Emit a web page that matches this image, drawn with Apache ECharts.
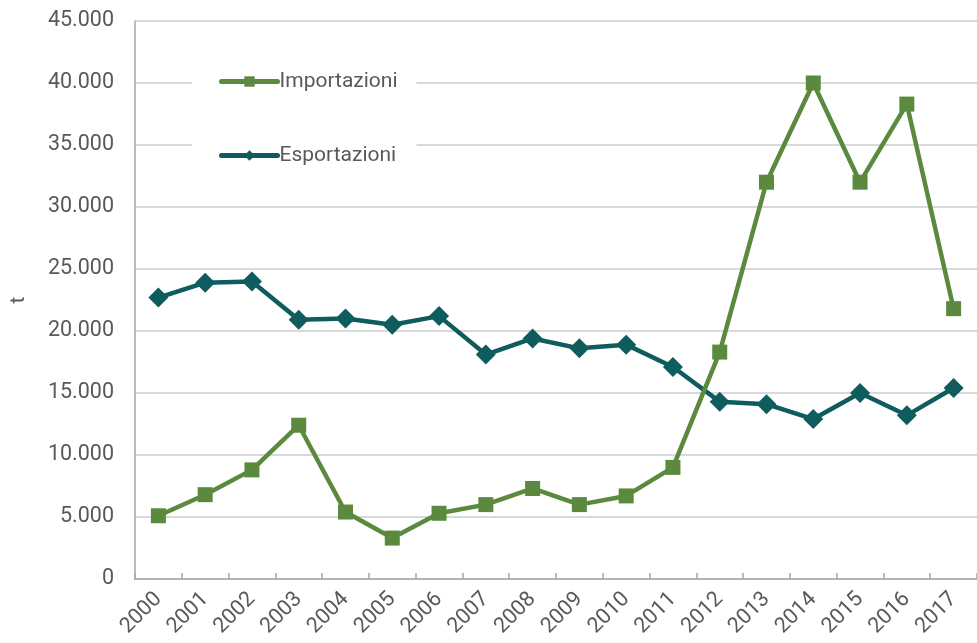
<!DOCTYPE html>
<html>
<head>
<meta charset="utf-8">
<script src="https://cdn.jsdelivr.net/npm/echarts@6/dist/echarts.min.js"></script>
<style>
  html, body { margin: 0; padding: 0; background: #fff; }
  #chart { width: 977px; height: 643px; }
</style>
</head>
<body>
<div id="chart"></div>
<script>
// Years on the category axis
const years = ['2000','2001','2002','2003','2004','2005','2006','2007','2008',
               '2009','2010','2011','2012','2013','2014','2015','2016','2017'];

// Imports and exports, tonnes
const importazioni = [5100, 6800, 8800, 12400, 5400, 3300, 5300, 6000, 7300,
                      6000, 6700, 9000, 18300, 32000, 40000, 32000, 38300, 21800];
const esportazioni = [22700, 23900, 24000, 20900, 21000, 20500, 21200, 18100, 19400,
                      18600, 18900, 17100, 14300, 14100, 12900, 15000, 13200, 15400];

const GREEN = '#5b8a3f';
const TEAL = '#0f5c5e';
const TEXT = '#595959';
const FONT = 'Roboto';

const fmt = v => String(v).replace(/\B(?=(\d{3})+(?!\d))/g, '.');

const chart = echarts.init(document.getElementById('chart'), null, { renderer: 'canvas' });
chart.setOption({
  animation: false,
  textStyle: { fontFamily: FONT },
  grid: { left: 134, right: -7, top: 21, bottom: 64, containLabel: false },
  legend: {
    orient: 'vertical',
    left: 192,
    top: 63,
    backgroundColor: '#ffffff',
    padding: [8, 19, 8, 27],
    itemGap: 53,
    itemWidth: 56,
    itemHeight: 13,
    lineStyle: { width: 5, cap: 'round' },
    textStyle: { fontFamily: FONT, fontSize: 21, color: TEXT, padding: [0, 0, 0, -3] },
    data: ['Importazioni', 'Esportazioni']
  },
  xAxis: {
    type: 'category',
    data: years,
    boundaryGap: true,
    axisLine: { lineStyle: { color: '#a6a6a6', width: 1.5 } },
    axisTick: { show: true, inside: true, length: 6, lineStyle: { color: '#a6a6a6', width: 1.5 } },
    axisLabel: { rotate: 45, fontFamily: FONT, fontSize: 21.5, color: TEXT, margin: 17, interval: 0 }
  },
  yAxis: {
    type: 'value',
    min: 0,
    max: 45000,
    interval: 5000,
    name: 't',
    nameLocation: 'middle',
    nameGap: 106,
    nameRotate: 90,
    nameTextStyle: { fontFamily: FONT, fontSize: 21, color: TEXT },
    axisLine: { show: true, lineStyle: { color: '#a6a6a6', width: 1.5 } },
    axisTick: { show: false },
    axisLabel: { fontFamily: FONT, fontSize: 21.5, color: TEXT, margin: 21, formatter: fmt },
    splitLine: { lineStyle: { color: '#cccccc', width: 1.5 } }
  },
  series: [
    {
      name: 'Importazioni',
      type: 'line',
      data: importazioni,
      symbol: 'rect',
      symbolSize: 15,
      itemStyle: { color: GREEN },
      lineStyle: { color: GREEN, width: 4.5 },
      z: 3
    },
    {
      name: 'Esportazioni',
      type: 'line',
      data: esportazioni,
      symbol: 'diamond',
      symbolSize: [20, 20],
      itemStyle: { color: TEAL },
      lineStyle: { color: TEAL, width: 4.5 },
      z: 2
    }
  ]
});
</script>
</body>
</html>
